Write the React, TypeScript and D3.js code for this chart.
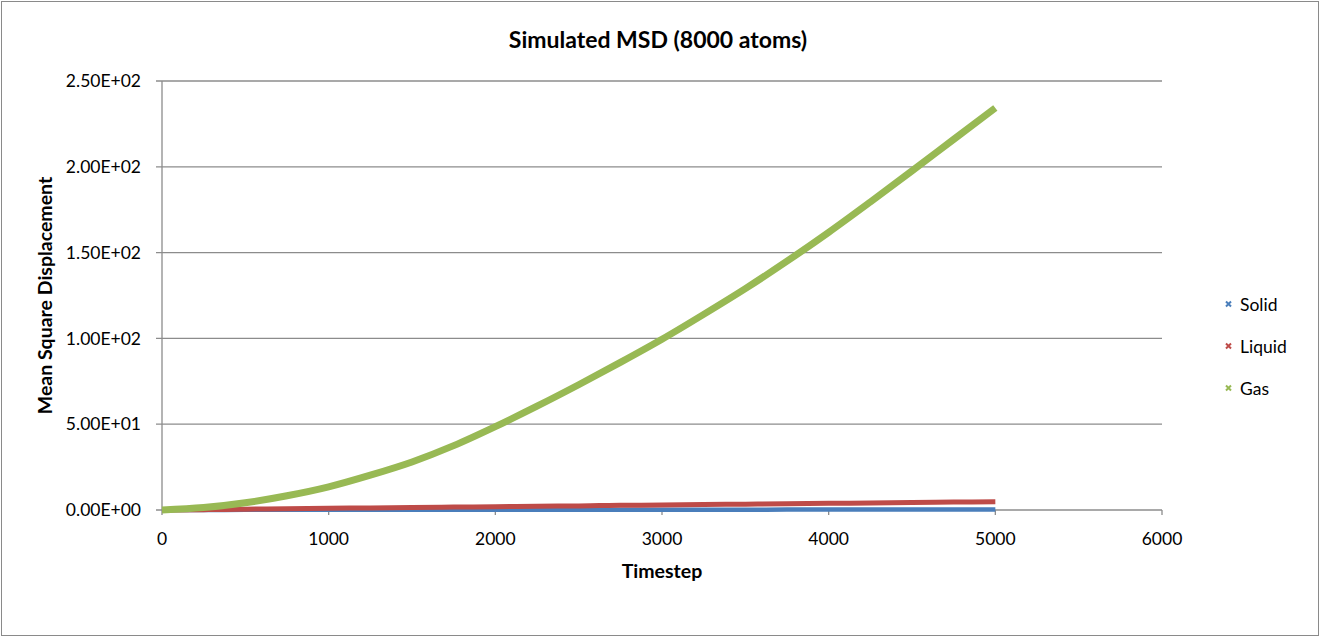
import React from 'react';
import * as d3 from 'd3';

// timestep samples
const timesteps = [0, 250, 500, 750, 1000, 1250, 1500, 1750, 2000, 2250, 2500, 2750, 3000, 3250, 3500, 3750, 4000, 4250, 4500, 4750, 5000];
const solidMsd = [0, 0.05, 0.08, 0.1, 0.11, 0.12, 0.13, 0.14, 0.15, 0.16, 0.17, 0.18, 0.19, 0.2, 0.21, 0.22, 0.23, 0.24, 0.25, 0.26, 0.27];
const liquidMsd = [0, 0.2, 0.5, 0.7, 1.0, 1.2, 1.5, 1.7, 1.9, 2.2, 2.4, 2.7, 2.9, 3.2, 3.4, 3.6, 3.9, 4.1, 4.4, 4.6, 4.85];
const gasMsd = [0, 1.4, 4.2, 8.3, 13.5, 20.3, 28, 37.5, 48.6, 60.5, 73, 86, 99.5, 114, 129, 145, 161.8, 179.5, 197.6, 216, 234.3];

const xTicks = [0, 1000, 2000, 3000, 4000, 5000, 6000];
const yTicks = [0, 50, 100, 150, 200, 250];

const seriesNames = ['Solid', 'Liquid', 'Gas'];
const seriesColors = ['#4a7ebb', '#be4b48', '#98b954'];
const seriesWidths = [4.5, 5, 7];

const W = 1320;
const H = 637;
const FONT = 'Lato, "Open Sans", sans-serif';

const sci = (v: number) => {
  const [m, e] = v.toExponential(2).toUpperCase().split('E');
  const sign = e[0] === '-' ? '-' : '+';
  const digits = e.replace(/[+-]/, '').padStart(2, '0');
  return `${m}E${sign}${digits}`;
};

const App = () => {
  const x = d3.scaleLinear().domain([0, 6000]).range([162, 1162]);
  const y = d3.scaleLinear().domain([0, 250]).range([510, 81]);

  const allSeries = [solidMsd, liquidMsd, gasMsd];
  const line = d3
    .line<number>()
    .x((_, i) => x(timesteps[i]))
    .y((d) => y(d))
    .curve(d3.curveMonotoneX);

  return (
    <svg width={W} height={H} style={{ position: 'absolute', left: 0, top: 0, fontFamily: FONT }}>
      <rect x={1.5} y={1.5} width={W - 3} height={H - 3} fill="#fff" stroke="#8a8a8a" strokeWidth={1} />

      <text x={658} y={48} textAnchor="middle" fontSize={23} fontWeight="bold" fill="#000">
        Simulated MSD (8000 atoms)
      </text>

      {/* horizontal gridlines */}
      {yTicks.map((t) => (
        <g key={t}>
          <line x1={156} x2={x(6000)} y1={y(t)} y2={y(t)} stroke="#8c8c8c" strokeWidth={1.3} />
          <text x={141} y={y(t)} dy="0.35em" textAnchor="end" fontSize={17.5} fill="#000">
            {sci(t)}
          </text>
        </g>
      ))}

      {/* y axis */}
      <line x1={x(0)} x2={x(0)} y1={y(250)} y2={y(0)} stroke="#8c8c8c" strokeWidth={1.3} />

      {/* x ticks */}
      {xTicks.map((t) => (
        <g key={t}>
          <line x1={x(t)} x2={x(t)} y1={y(0)} y2={y(0) + 5} stroke="#8c8c8c" strokeWidth={1.3} />
          <text x={x(t)} y={539} dy="0.35em" textAnchor="middle" fontSize={17.5} fill="#000">
            {t}
          </text>
        </g>
      ))}

      <text x={662} y={571} dy="0.35em" textAnchor="middle" fontSize={19.5} fontWeight="bold" fill="#000">
        Timestep
      </text>
      <text
        transform={`translate(45, ${y(125)}) rotate(-90)`}
        textAnchor="middle"
        dy="0.35em"
        fontSize={19.5}
        fontWeight="bold"
        fill="#000"
      >
        Mean Square Displacement
      </text>

      {allSeries.map((s, i) => (
        <path
          key={seriesNames[i]}
          d={line(s) || ''}
          fill="none"
          stroke={seriesColors[i]}
          strokeWidth={seriesWidths[i]}
          strokeLinejoin="round"
        />
      ))}

      {/* legend */}
      {seriesNames.map((n, i) => {
        const ly = 304 + i * 42;
        return (
          <g key={n}>
            <path
              d={`M1226,${ly - 2.5}L1231,${ly + 2.5}M1226,${ly + 2.5}L1231,${ly - 2.5}`}
              stroke={seriesColors[i]}
              strokeWidth={2}
            />
            <text x={1240} y={ly + 1} dy="0.35em" fontSize={17.5} fill="#000">
              {n}
            </text>
          </g>
        );
      })}
    </svg>
  );
};

export default App;
